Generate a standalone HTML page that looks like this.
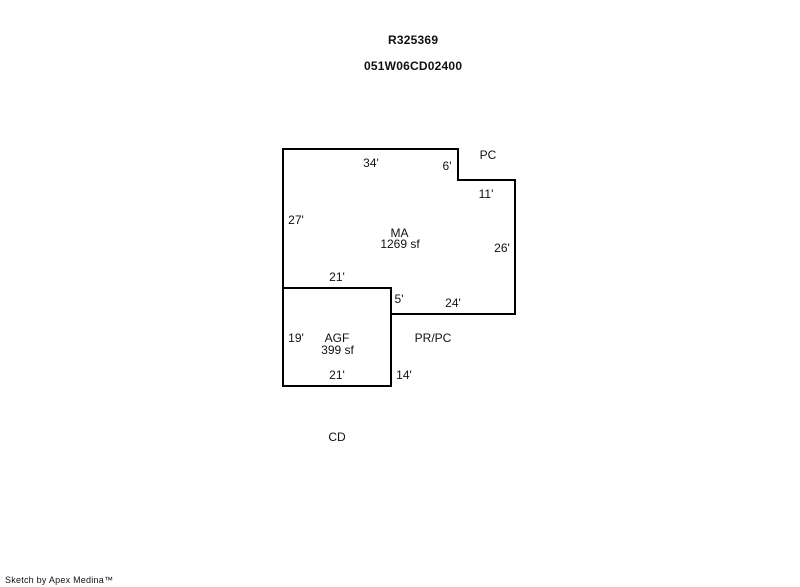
<!DOCTYPE html>
<html>
<head>
<meta charset="utf-8">
<style>
html,body{margin:0;padding:0;background:#fff;width:800px;height:587px;overflow:hidden}
svg{display:block;position:absolute;left:0;top:0}
text{font-family:"Liberation Sans",Arial,sans-serif;font-size:12px;fill:#111;text-anchor:middle}
.b{font-weight:bold}
.s{font-size:9px;text-anchor:start}
</style>
</head>
<body>
<svg width="800" height="587" viewBox="0 0 800 587" xmlns="http://www.w3.org/2000/svg">
<rect width="800" height="587" fill="#fff"/>
<path d="M283 288V149H458V180H515V314H391" fill="none" stroke="#000" stroke-width="2" stroke-linecap="square"/>
<rect x="283" y="288" width="108" height="98" fill="none" stroke="#000" stroke-width="2"/>
<text class="b" x="413" y="44" textLength="50" lengthAdjust="spacing">R325369</text>
<text class="b" x="413" y="70" textLength="98" lengthAdjust="spacing">051W06CD02400</text>
<text x="371" y="167">34'</text>
<text x="447" y="170">6'</text>
<text x="488" y="159">PC</text>
<text x="486" y="198">11'</text>
<text x="296" y="224">27'</text>
<text x="399.500" y="237">MA</text>
<text x="400" y="248">1269 sf</text>
<text x="502" y="252">26'</text>
<text x="337" y="281">21'</text>
<text x="399" y="303">5'</text>
<text x="453" y="307">24'</text>
<text x="296" y="342">19'</text>
<text x="337" y="342">AGF</text>
<text x="337.500" y="354">399 sf</text>
<text x="433" y="342">PR/PC</text>
<text x="337" y="379">21'</text>
<text x="404" y="379">14'</text>
<text x="337" y="441">CD</text>
<text class="s" x="5" y="583" textLength="108" lengthAdjust="spacing">Sketch by Apex Medina™</text>
</svg>
</body>
</html>
